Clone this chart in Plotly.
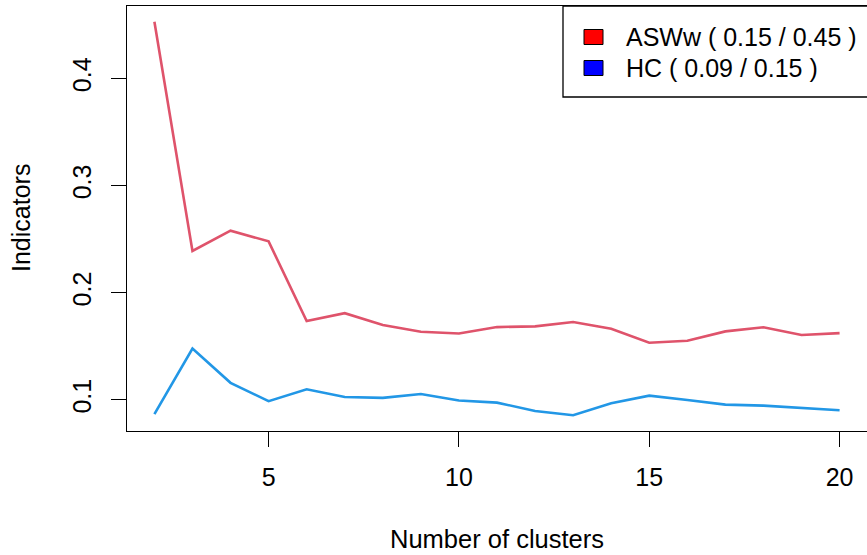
import plotly.graph_objects as go

# Cluster-quality indicators by number of clusters
clusters = list(range(2, 21))
asww = [0.453, 0.239, 0.258, 0.248, 0.1736, 0.181, 0.170, 0.1637, 0.162, 0.168,
        0.1687, 0.1727, 0.1665, 0.1534, 0.1553, 0.164, 0.1678, 0.1606, 0.1624]
hc = [0.0867, 0.148, 0.116, 0.0988, 0.110, 0.1028, 0.1019, 0.1056, 0.0994, 0.0975,
      0.0897, 0.0857, 0.0969, 0.104, 0.100, 0.0956, 0.0947, 0.0928, 0.0904]
x_ticks = [5, 10, 15, 20]
y_ticks = [0.1, 0.2, 0.3, 0.4]

legend_labels = [
    f"ASWw ( {min(asww):.2f} / {max(asww):.2f} )",
    f"HC ( {min(hc):.2f} / {max(hc):.2f} )",
]
line_colors = ["#DF536B", "#2297E6"]
box_colors = ["#FF0000", "#0000FF"]

FONT = "Liberation Sans, Arial, Helvetica, sans-serif"
FS = 25
W, H = 867, 555
ML, MR, MT, MB = 127, 0, 6, 124


def rng(vals):
    lo, hi = min(vals), max(vals)
    pad = 0.04 * (hi - lo)
    return [lo - pad, hi + pad]


fig = go.Figure()
for name, ys, col in zip(["ASWw", "HC"], [asww, hc], line_colors):
    fig.add_trace(go.Scatter(x=clusters, y=ys, mode="lines", name=name,
                             line=dict(color=col, width=2.6), showlegend=False))

axis_common = dict(showgrid=False, zeroline=False, showline=True, mirror=True,
                   linecolor="black", linewidth=1.3, ticks="outside", ticklen=15,
                   tickwidth=1.3, tickcolor="black",
                   tickfont=dict(family=FONT, size=FS, color="black"))

fig.update_xaxes(range=rng(clusters), tickvals=x_ticks,
                 ticktext=[str(v) for v in x_ticks], ticklabelstandoff=9,
                 **axis_common)
fig.update_yaxes(range=rng(asww + hc), tickvals=y_ticks,
                 ticktext=[f"{v:.1f}" for v in y_ticks], tickangle=-90,
                 ticklabelstandoff=10, **axis_common)

pw = W - ML - MR
ph = H - MT - MB


def px(xp):
    return (xp - ML) / pw


def py(yp):
    return (H - MB - yp) / ph


annotations = [
    dict(text="Number of clusters", x=px(497), y=py(539), xref="paper", yref="paper",
         showarrow=False, font=dict(family=FONT, size=FS + 0.5, color="black"),
         xanchor="center", yanchor="middle"),
    dict(text="Indicators", x=px(21), y=py(218), xref="paper", yref="paper",
         showarrow=False, textangle=-90, font=dict(family=FONT, size=FS, color="black"),
         xanchor="center", yanchor="middle"),
]

# legend box drawn by hand (filled squares + labels)
shapes = [dict(type="rect", xref="paper", yref="paper",
               x0=px(563), x1=px(868), y0=py(97), y1=py(6),
               line=dict(color="black", width=1.3), fillcolor="white")]
row_y = [37, 68]
for lab, col, yc in zip(legend_labels, box_colors, row_y):
    shapes.append(dict(type="rect", xref="paper", yref="paper",
                       x0=px(584), x1=px(603), y0=py(yc + 7.5), y1=py(yc - 7.5),
                       line=dict(color="black", width=1), fillcolor=col))
    annotations.append(dict(text=lab, x=px(624), y=py(yc), xref="paper", yref="paper",
                            showarrow=False, xanchor="left", yanchor="middle",
                            font=dict(family=FONT, size=FS, color="black")))

fig.update_layout(width=W, height=H, margin=dict(l=ML, r=MR, t=MT, b=MB),
                  plot_bgcolor="white", paper_bgcolor="white",
                  shapes=shapes, annotations=annotations)

fig.write_html("out.html")
